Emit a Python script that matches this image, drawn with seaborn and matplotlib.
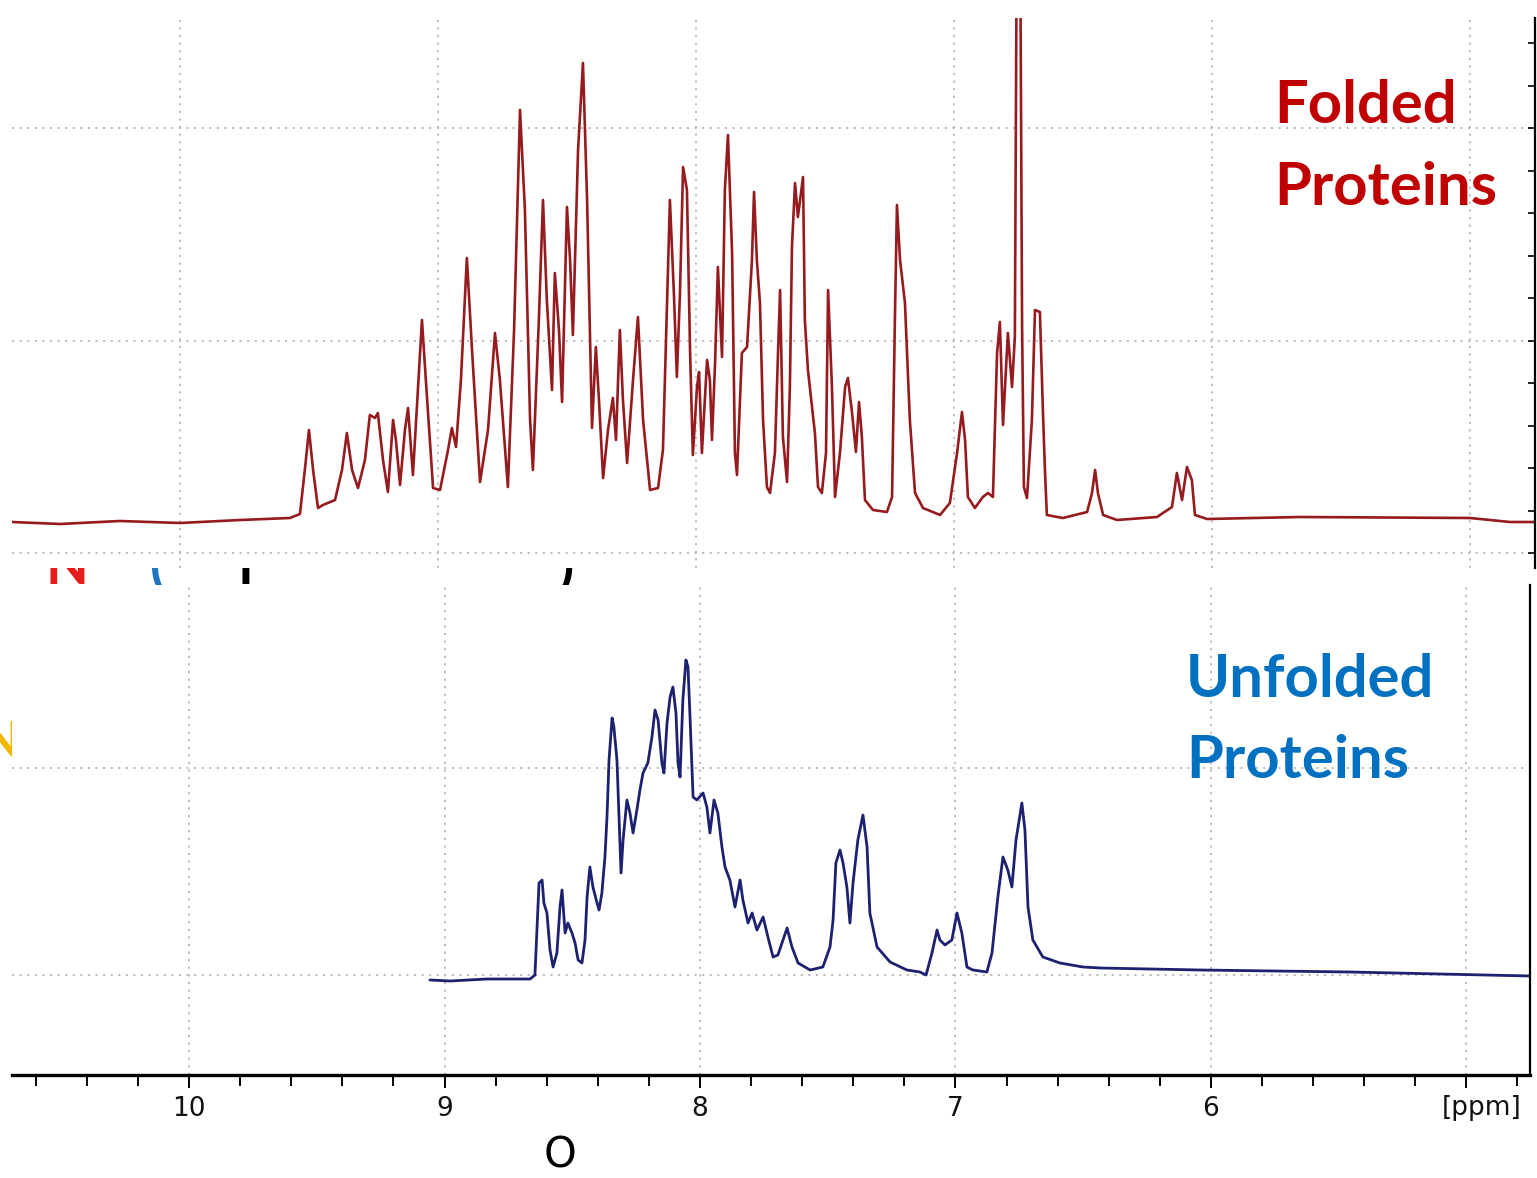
import numpy as np
import matplotlib
matplotlib.use("Agg")
import matplotlib.pyplot as plt
import seaborn as sns

sns.set_theme(style="white")
plt.rcParams["font.family"] = ["DejaVu Sans"]

# folded protein 1H spectrum (ppm, intensity in a.u.)
TOP_PPM = [10.651, 10.465, 10.233, 10.000, 9.767, 9.574, 9.535, 9.516, 9.500, 9.484,
           9.465, 9.446, 9.399, 9.372, 9.353, 9.333, 9.310, 9.283, 9.264, 9.244,
           9.233, 9.213, 9.194, 9.174, 9.163, 9.147, 9.128, 9.116, 9.097, 9.078,
           9.062, 9.047, 9.019, 8.992, 8.961, 8.946, 8.930, 8.911, 8.888, 8.868,
           8.837, 8.806, 8.779, 8.760, 8.729, 8.705, 8.682, 8.663, 8.643, 8.632,
           8.609, 8.593, 8.578, 8.558, 8.547, 8.531, 8.519, 8.500, 8.488, 8.477,
           8.457, 8.438, 8.422, 8.403, 8.388, 8.376, 8.360, 8.341, 8.322, 8.310,
           8.295, 8.283, 8.267, 8.244, 8.225, 8.205, 8.178, 8.147, 8.128, 8.112,
           8.101, 8.085, 8.074, 8.062, 8.050, 8.035, 8.023, 8.012, 7.996, 7.988,
           7.977, 7.957, 7.946, 7.938, 7.926, 7.915, 7.899, 7.888, 7.876, 7.860,
           7.849, 7.841, 7.822, 7.802, 7.783, 7.775, 7.764, 7.752, 7.740, 7.725,
           7.713, 7.694, 7.682, 7.674, 7.663, 7.647, 7.636, 7.628, 7.616, 7.605,
           7.585, 7.578, 7.566, 7.539, 7.527, 7.512, 7.496, 7.488, 7.473, 7.461,
           7.442, 7.422, 7.411, 7.395, 7.380, 7.368, 7.357, 7.345, 7.314, 7.260,
           7.240, 7.229, 7.221, 7.209, 7.190, 7.171, 7.151, 7.120, 7.054, 7.016,
           6.988, 6.969, 6.957, 6.946, 6.919, 6.888, 6.868, 6.849, 6.833, 6.822,
           6.810, 6.791, 6.775, 6.764, 6.756, 6.744, 6.736, 6.729, 6.717, 6.698,
           6.686, 6.667, 6.655, 6.647, 6.640, 6.578, 6.484, 6.465, 6.453, 6.442,
           6.422, 6.368, 6.213, 6.155, 6.136, 6.116, 6.097, 6.078, 6.066, 6.019,
           5.659, 5.000, 4.845, 4.748]
TOP_INT = [0, -2, 1, -1, 2, 4, 8, 52, 92, 52,
           14, 17, 22, 52, 89, 52, 34, 62, 107, 104,
           109, 62, 30, 102, 82, 37, 92, 114, 47, 132,
           202, 142, 34, 32, 72, 94, 75, 142, 264, 172,
           40, 92, 189, 142, 35, 192, 412, 312, 102, 52,
           202, 322, 222, 132, 249, 192, 120, 315, 262, 187,
           372, 459, 322, 94, 175, 122, 44, 92, 124, 82,
           192, 122, 59, 142, 205, 102, 32, 34, 72, 222,
           322, 225, 145, 229, 355, 332, 172, 67, 135, 150,
           69, 162, 142, 82, 159, 255, 165, 332, 387, 269,
           69, 47, 169, 175, 262, 330, 262, 219, 102, 35,
           29, 69, 169, 232, 85, 40, 135, 275, 339, 305,
           345, 202, 152, 89, 35, 29, 69, 232, 135, 25,
           69, 135, 144, 109, 70, 120, 85, 22, 12, 10,
           25, 202, 317, 262, 219, 102, 29, 14, 7, 19,
           69, 110, 82, 25, 14, 25, 29, 25, 169, 200,
           97, 189, 135, 185, 622, 622, 195, 35, 24, 102,
           212, 210, 109, 49, 7, 4, 10, 29, 52, 29,
           7, 2, 5, 15, 49, 22, 55, 42, 7, 3,
           5, 4, 0, 0]

# unfolded protein 1H spectrum
BOT_PPM = [9.057, 8.978, 8.834, 8.665, 8.646, 8.638, 8.630, 8.618, 8.611, 8.599,
           8.587, 8.575, 8.560, 8.548, 8.540, 8.528, 8.517, 8.501, 8.489, 8.477,
           8.462, 8.450, 8.442, 8.431, 8.419, 8.403, 8.395, 8.384, 8.372, 8.364,
           8.356, 8.344, 8.337, 8.325, 8.317, 8.309, 8.301, 8.286, 8.274, 8.262,
           8.247, 8.235, 8.223, 8.204, 8.188, 8.176, 8.164, 8.149, 8.141, 8.129,
           8.117, 8.106, 8.094, 8.086, 8.078, 8.067, 8.055, 8.047, 8.039, 8.027,
           8.012, 7.988, 7.973, 7.961, 7.945, 7.930, 7.914, 7.902, 7.883, 7.863,
           7.843, 7.832, 7.812, 7.796, 7.777, 7.753, 7.734, 7.714, 7.695, 7.659,
           7.640, 7.616, 7.569, 7.519, 7.491, 7.479, 7.468, 7.452, 7.440, 7.425,
           7.413, 7.401, 7.382, 7.362, 7.346, 7.335, 7.307, 7.256, 7.190, 7.139,
           7.115, 7.092, 7.072, 7.061, 7.041, 7.014, 6.994, 6.975, 6.955, 6.932,
           6.877, 6.857, 6.834, 6.814, 6.795, 6.779, 6.763, 6.740, 6.728, 6.716,
           6.697, 6.658, 6.591, 6.501, 6.434, 6.043, 5.456, 4.751]
BOT_INT = [0, -1, 1, 1, 5, 50, 97, 100, 77, 67,
           30, 13, 27, 73, 90, 47, 57, 47, 37, 20,
           17, 40, 83, 113, 93, 77, 70, 87, 123, 163,
           220, 262, 253, 220, 163, 107, 140, 180, 167, 147,
           170, 190, 207, 217, 243, 270, 260, 217, 207, 257,
           283, 293, 267, 217, 203, 280, 320, 313, 263, 183,
           180, 187, 173, 147, 180, 167, 133, 113, 100, 73,
           100, 80, 57, 67, 50, 63, 43, 23, 25, 52,
           33, 17, 10, 13, 33, 60, 117, 130, 117, 93,
           57, 97, 140, 165, 133, 67, 33, 18, 10, 8,
           5, 27, 50, 40, 35, 40, 67, 47, 13, 10,
           8, 27, 83, 123, 110, 93, 140, 177, 150, 73,
           40, 23, 17, 13, 12, 10, 8, 4]

MAJOR_PPM = [10, 9, 8, 7, 6, 5]
TICK_LABELS = ["10", "9", "8", "7", "6", ""]

W, H = 1537, 1178
fig = plt.figure(figsize=(W / 100, H / 100), dpi=100)
fig.patch.set_facecolor("white")

def px(x, y):
    return x / W, 1 - y / H

# clipped remnants of a slide title peeking out between the panels
for s, x, col in [("N", 45, "#e31b1b"), ("(", 150, "#1f77c4"), ("l", 238, "black"), (")", 558, "black")]:
    fig.text(*px(x, 584), s, fontsize=40, fontweight="bold", color=col,
             va="baseline", family=["Lato", "DejaVu Sans"], zorder=-5)
fig.text(*px(-18, 757), "N", fontsize=36, fontweight="bold", color="#f2b705",
         va="baseline", family=["Lato", "DejaVu Sans"], zorder=-5)

grid_kw = dict(color="#b8b8b8", linestyle=(0, (1.2, 3)), linewidth=1.3)

# --- folded panel ---
ax1 = fig.add_axes([12 / W, 1 - 568 / H, 1523 / W, 550 / H])
ax1.set_facecolor("white")
sns.lineplot(x=TOP_PPM, y=TOP_INT, ax=ax1, sort=False, estimator=None,
             color="#961b1e", linewidth=1.9)
ax1.set_xlim(10.651, 4.748)
ax1.set_ylim(-46, 504)
ax1.set_xticks(MAJOR_PPM)
ax1.set_yticks([-31, 181.5, 394])
ax1.set_yticks(np.arange(-31, 480, 42.5), minor=True)
ax1.grid(True, which="major", **grid_kw)
ax1.tick_params(axis="x", length=0, labelbottom=False)
ax1.yaxis.tick_right()
ax1.tick_params(axis="y", which="both", direction="in", length=5, width=1.2,
                color="black", labelright=False)
for side in ["left", "top", "bottom"]:
    ax1.spines[side].set_visible(False)
ax1.spines["right"].set_color("black")
ax1.spines["right"].set_linewidth(1.6)
ax1.set_xlabel("")
ax1.set_ylabel("")

# --- unfolded panel ---
ax2 = fig.add_axes([12 / W, 1 - 1075 / H, 1518 / W, 490 / H])
ax2.set_facecolor("white")
sns.lineplot(x=BOT_PPM, y=BOT_INT, ax=ax2, sort=False, estimator=None,
             color="#1c2170", linewidth=2.0)
ax2.set_xlim(10.693, 4.751)
ax2.set_ylim(-95, 395)
ax2.set_xticks(MAJOR_PPM)
ax2.set_xticklabels(TICK_LABELS)
ax2.set_xticks(np.arange(4.8, 10.7, 0.2), minor=True)
ax2.set_yticks([5, 212])
ax2.grid(True, which="major", **grid_kw)
ax2.tick_params(axis="y", length=0, labelleft=False)
ax2.tick_params(axis="x", which="major", direction="out", length=9, width=1.4,
                color="black", labelsize=19, labelcolor="#111111", pad=6, bottom=True)
ax2.tick_params(axis="x", which="minor", direction="out", length=8, width=1.4,
                color="black", bottom=True)
for side in ["left", "top"]:
    ax2.spines[side].set_visible(False)
ax2.spines["bottom"].set_color("black")
ax2.spines["bottom"].set_linewidth(2.4)
ax2.spines["right"].set_color("black")
ax2.spines["right"].set_linewidth(1.6)
ax2.set_xlabel("")
ax2.set_ylabel("")

fig.text(*px(1482, 1108), "[ppm]", fontsize=19, color="#111111", ha="center", va="center")

# panel labels
lab_kw = dict(fontsize=43, fontweight="bold", family=["Lato", "DejaVu Sans"], va="baseline")
fig.text(*px(1274, 123), "Folded", color="#c00000", **lab_kw)
fig.text(*px(1274, 205), "Proteins", color="#c00000", **lab_kw)
fig.text(*px(1186, 697), "Unfolded", color="#0070c0", **lab_kw)
fig.text(*px(1186, 778), "Proteins", color="#0070c0", **lab_kw)

fig.text(*px(560, 1156), "O", fontsize=30, color="black", ha="center", va="center")

fig.savefig("out.png", dpi=100, facecolor="white")
